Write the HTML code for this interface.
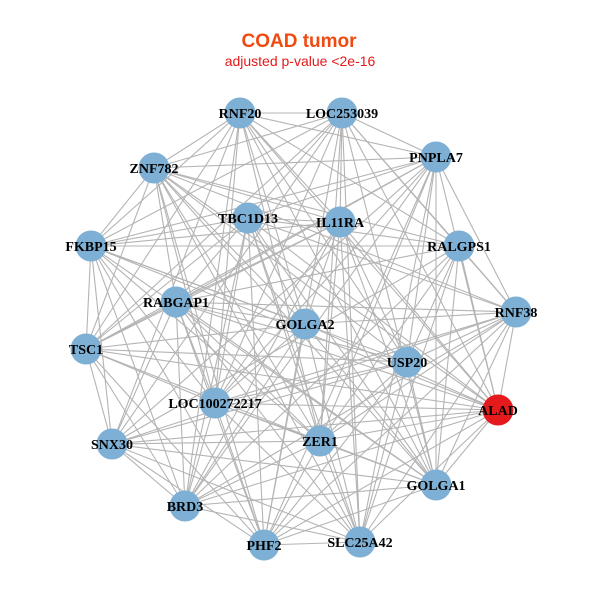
<!DOCTYPE html>
<html><head><meta charset="utf-8"><style>
html,body{margin:0;padding:0;background:#fff;}
svg{display:block}
</style></head><body>
<svg id="g" width="600" height="600" viewBox="0 0 600 600" xmlns="http://www.w3.org/2000/svg">
<text x="299" y="47" text-anchor="middle" font-family="Liberation Sans, sans-serif" font-weight="bold" font-size="19" fill="#f04a10">COAD tumor</text>
<text x="300" y="66" text-anchor="middle" font-family="Liberation Sans, sans-serif" font-size="14" fill="#e41a1c">adjusted p-value &lt;2e-16</text>
<g id="edges" stroke="#b4b4b4" stroke-width="1.1"></g>
<g id="nodes"></g>
</svg>
<script>
var N=[["RNF20",240,113],["LOC253039",342,113],["PNPLA7",436,157],["ZNF782",154,168],["TBC1D13",248,218],["IL11RA",340,222],["RALGPS1",459,246],["FKBP15",91,246],["RABGAP1",176,302],["GOLGA2",305,324],["RNF38",516,312],["TSC1",86,349],["USP20",407,362],["LOC100272217",215,403],["ALAD",498,410],["SNX30",112,444],["ZER1",320,441],["GOLGA1",436,485],["BRD3",185,506],["PHF2",264,545],["SLC25A42",360,542]];
var ns="http://www.w3.org/2000/svg",E=document.getElementById("edges"),G=document.getElementById("nodes");
var s=12345;function r(){s=(s*1103515245+12345)%2147483648;return s/2147483648;}
for(var i=0;i<N.length;i++)for(var j=i+1;j<N.length;j++){
 if(r()<0.8){var l=document.createElementNS(ns,"line");
 l.setAttribute("x1",N[i][1]);l.setAttribute("y1",N[i][2]);l.setAttribute("x2",N[j][1]);l.setAttribute("y2",N[j][2]);E.appendChild(l);}}
N.forEach(function(n){var c=document.createElementNS(ns,"circle");c.setAttribute("cx",n[1]);c.setAttribute("cy",n[2]);c.setAttribute("r",15.5);
 c.setAttribute("fill",n[0]=="ALAD"?"#e41a1c":"#7eb0d5");G.appendChild(c);});
N.forEach(function(n){var t=document.createElementNS(ns,"text");t.setAttribute("x",n[1]);t.setAttribute("y",n[2]+5);
 t.setAttribute("text-anchor","middle");t.setAttribute("font-family","Liberation Serif, serif");t.setAttribute("font-weight","bold");t.setAttribute("font-size","14");
 t.textContent=n[0];G.appendChild(t);});
</script>
</body></html>
